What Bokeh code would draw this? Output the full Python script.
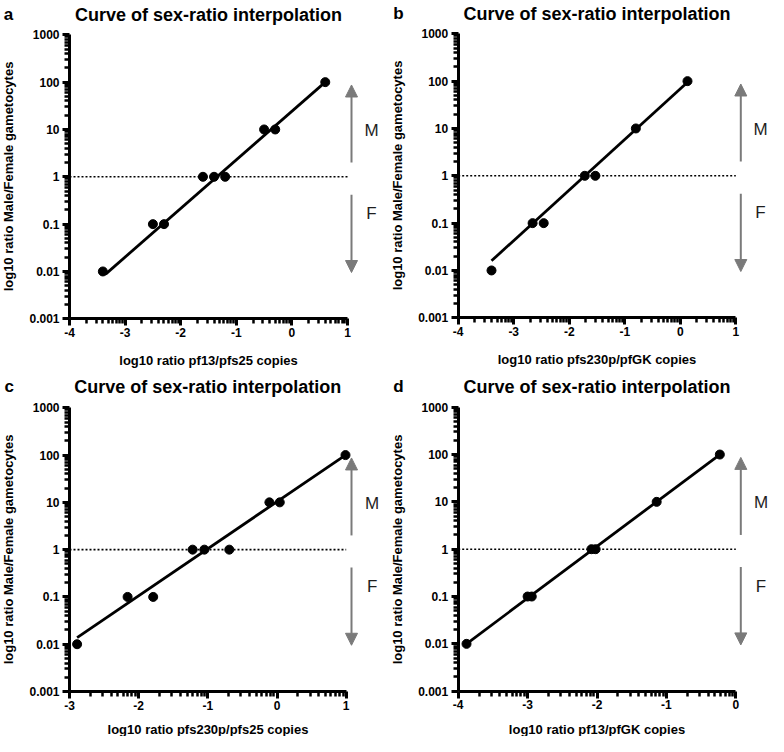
import math
from bokeh.plotting import figure
from bokeh.models import (FixedTicker, CustomJSTickFormatter, Arrow, NormalHead,
                          Range1d, LinearAxis, LogAxis)
from bokeh.layouts import gridplot
from bokeh.embed import file_html
from bokeh.resources import INLINE
from bokeh.core.properties import value

# ---------------- data ----------------
title_text = "Curve of sex-ratio interpolation"
y_label = "log10 ratio Male/Female gametocytes"
y_ticks = [0.001, 0.01, 0.1, 1, 10, 100, 1000]

a_letter = "a"
a_xlabel = "log10 ratio pf13/pfs25 copies"
a_xticks = [-4, -3, -2, -1, 0, 1]
a_x = [-3.4, -2.5, -2.3, -1.6, -1.4, -1.2, -0.5, -0.3, 0.6]
a_y = [0.01, 0.1, 0.1, 1, 1, 1, 10, 10, 100]
a_fit_x = [-3.35, 0.6]
a_fit_y = [0.0088, 100]

b_letter = "b"
b_xlabel = "log10 ratio pfs230p/pfGK copies"
b_xticks = [-4, -3, -2, -1, 0, 1]
b_x = [-3.4, -2.66, -2.46, -1.72, -1.53, -0.8, 0.13]
b_y = [0.01, 0.1, 0.1, 1, 1, 10, 100]
b_fit_x = [-3.4, 0.13]
b_fit_y = [0.016, 95]

c_letter = "c"
c_xlabel = "log10 ratio pfs230p/pfs25 copies"
c_xticks = [-3, -2, -1, 0, 1]
c_x = [-2.89, -2.16, -1.79, -1.22, -1.05, -0.69, -0.11, 0.04, 0.99]
c_y = [0.01, 0.1, 0.1, 1, 1, 1, 10, 10, 100]
c_fit_x = [-2.89, 0.99]
c_fit_y = [0.0138, 100]

d_letter = "d"
d_xlabel = "log10 ratio pf13/pfGK copies"
d_xticks = [-4, -3, -2, -1, 0]
d_x = [-3.88, -3.0, -2.94, -2.08, -2.02, -1.14, -0.23]
d_y = [0.01, 0.1, 0.1, 1, 1, 10, 100]
d_fit_x = [-3.88, -0.23]
d_fit_y = [0.01, 100]

threshold_y = [1, 1]
arrow_up_y = [2, 87]
arrow_down_y = [0.42, 0.0095]
male_label, female_label = "M", "F"
male_y, female_y = 9.5, 0.165

FONT = "Liberation Sans"
GRAY = "#7a7a7a"
W, H = 384, 368
BLANK = "return '';"
PLAIN = "return tick.toString();"


def style_axis(ax, tick_out, tick_w):
    ax.axis_line_width = 3
    ax.axis_line_color = "black"
    ax.major_tick_line_width = tick_w
    ax.major_tick_line_color = "black"
    ax.major_tick_out = tick_out
    ax.major_tick_in = 0
    ax.minor_tick_line_color = None
    ax.major_label_text_font = FONT
    ax.major_label_text_font_style = "bold"
    ax.major_label_text_font_size = "12px"
    ax.major_label_text_color = "black"
    ax.axis_label_text_font = FONT
    ax.axis_label_text_font_style = "bold"
    ax.axis_label_text_font_size = "13px"
    ax.axis_label_text_color = "black"


def make_panel(letter, xlabel, xticks, xs, ys, fit_x, fit_y,
               left, top, bottom, ppu, arrow_px, mf_px, letter_px,
               title_base, s1, s2):
    xb0, xb1 = xticks[0], xticks[-1]
    ppd = (bottom - top) / 6.0

    def px_x(px):  # figure-local pixel -> data x
        return xb0 + (px - left) / ppu

    def px_y(py):  # figure-local pixel -> data y (log)
        return 10 ** (3 + (top - py) / ppd)

    p = figure(width=W, height=H, x_range=Range1d(px_x(0), px_x(W)),
               y_range=Range1d(px_y(H), px_y(0)), y_axis_type="log",
               output_backend="svg", toolbar_location=None, min_border=0)
    p.outline_line_color = None
    p.grid.visible = False

    # main axes, fixed at the data origin corner
    xa = p.xaxis[0]
    ya = p.yaxis[0]
    xa.fixed_location = 0.001
    ya.fixed_location = xb0
    xa.bounds = (xb0, xb1)
    ya.bounds = (0.001, 1000)
    xa.ticker = FixedTicker(ticks=xticks)
    ya.ticker = FixedTicker(ticks=y_ticks)
    xa.formatter = CustomJSTickFormatter(code=PLAIN)
    ya.formatter = CustomJSTickFormatter(code=PLAIN)
    style_axis(xa, 7, 3)
    style_axis(ya, 7, 3)
    xa.axis_label = xlabel
    xa.major_label_standoff = 2
    xa.axis_label_standoff = s2
    ya.axis_label = y_label
    ya.major_label_standoff = 3
    ya.axis_label_standoff = 10

    # log-spaced minor ticks, drawn by extra unlabeled axes
    x_minor = [float(n + math.log10(k)) for n in xticks[:-1] for k in range(2, 10)]
    y_minor = [float(m * t) for t in y_ticks[:-1] for m in range(2, 10)]
    xm = LinearAxis(fixed_location=0.001, bounds=(xb0, xb1),
                    ticker=FixedTicker(ticks=x_minor),
                    formatter=CustomJSTickFormatter(code=BLANK))
    ym = LogAxis(fixed_location=xb0, bounds=(0.001, 1000),
                 ticker=FixedTicker(ticks=y_minor),
                 formatter=CustomJSTickFormatter(code=BLANK))
    for ax in (xm, ym):
        style_axis(ax, 5, 2.5)
        ax.axis_line_color = None
        ax.major_label_standoff = 0
    p.add_layout(xm, "below")
    p.add_layout(ym, "left")

    # threshold dotted line at y = 1
    p.line([xb0, xb1], threshold_y, line_color="black", line_width=1.6,
           line_dash="2 2")
    # fit line and points
    p.line(fit_x, fit_y, line_color="black", line_width=2.8)
    p.scatter(xs, ys, size=9, color="black")

    # M / F arrows
    ax_x = px_x(arrow_px)
    for ys_ in (arrow_up_y, arrow_down_y):
        p.add_layout(Arrow(x_start=ax_x, y_start=ys_[0], x_end=ax_x,
                           y_end=ys_[1], line_color=GRAY, line_width=2,
                           end=NormalHead(size=12, fill_color=GRAY,
                                          line_color=GRAY)))
    mf_x = px_x(mf_px)
    p.text(x=[mf_x, mf_x], y=[male_y, female_y],
           text=[male_label, female_label],
           text_font=value(FONT), text_font_size="17px", text_color="#1e1e1e",
           text_align="center", text_baseline="middle")

    # title and panel letter
    ty = px_y(title_base)
    p.text(x=[(xb0 + xb1) / 2], y=[ty], text=[title_text],
           text_font=value(FONT), text_font_style="bold", text_font_size="18px",
           text_align="center", text_baseline="alphabetic", text_color="black")
    p.text(x=[px_x(letter_px)], y=[ty], text=[letter],
           text_font=value(FONT), text_font_style="bold", text_font_size="17px",
           text_align="left", text_baseline="alphabetic", text_color="black")
    return p


pa = make_panel(a_letter, a_xlabel, a_xticks, a_x, a_y, a_fit_x, a_fit_y,
                left=69, top=34.3, bottom=318.3, ppu=55.6, arrow_px=351,
                mf_px=371, letter_px=3.3, title_base=14, s1=2, s2=13)
pb = make_panel(b_letter, b_xlabel, b_xticks, b_x, b_y, b_fit_x, b_fit_y,
                left=73.7, top=33.3, bottom=317.3, ppu=55.52, arrow_px=356.3,
                mf_px=376, letter_px=8.7, title_base=13, s1=2, s2=13)
pc = make_panel(c_letter, c_xlabel, c_xticks, c_x, c_y, c_fit_x, c_fit_y,
                left=69, top=39.3, bottom=323, ppu=69.17, arrow_px=351,
                mf_px=371.7, letter_px=4, title_base=18, s1=2, s2=9)
pd = make_panel(d_letter, d_xlabel, d_xticks, d_x, d_y, d_fit_x, d_fit_y,
                left=73.7, top=38.7, bottom=322.7, ppu=69.4, arrow_px=356.3,
                mf_px=376.5, letter_px=8.7, title_base=18, s1=2, s2=9)

grid = gridplot([[pa, pb], [pc, pd]], toolbar_location=None)
open("out.html", "w").write(file_html(grid, INLINE))
